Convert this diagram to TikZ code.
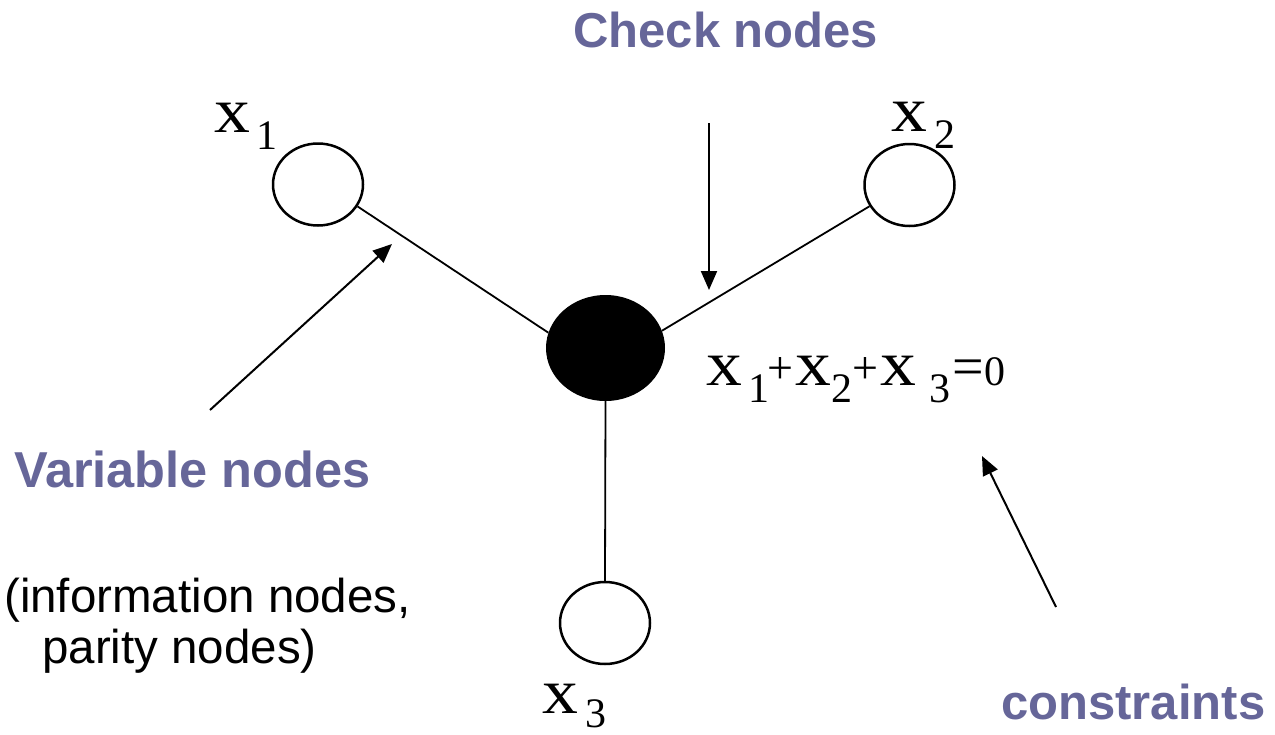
\documentclass[tikz,border=0pt]{standalone}
\usepackage{fontspec}
\setmainfont{Liberation Serif}
\newfontfamily\labfont{Liberation Sans}
\usetikzlibrary{shapes.geometric,arrows.meta}
\definecolor{labblue}{RGB}{102,102,153}
\newcommand\VX{\scalebox{1.12}[1]{\fontsize{64}{64}\selectfont x}}
\newcommand\VS[2][-17pt]{\raisebox{#1}{\fontsize{42}{42}\selectfont #2}}
\newcommand\VP{\raisebox{2pt}{\fontsize{46}{46}\selectfont +}}
\begin{document}
\begin{tikzpicture}[x=1pt,y=-1pt,
  var/.style={ellipse,draw,line width=2.5pt,minimum width=90pt,minimum height=82pt,inner sep=0pt},
  chk/.style={ellipse,fill=black,minimum width=119pt,minimum height=106pt,inner sep=0pt},
  edge/.style={line width=1.8pt},
  ptr/.style={line width=2pt,-{Triangle[length=19pt,width=16pt]}},
  title/.style={text=labblue,font=\labfont\bfseries\fontsize{49}{49}\selectfont,inner sep=0pt,anchor=base west},
  note/.style={font=\labfont\fontsize{47.5}{51}\selectfont,inner sep=0pt,anchor=base west},
  math/.style={inner sep=0pt,anchor=base west}]
\useasboundingbox (0,0) rectangle (1275,734);
% graph
\node[var] (x1) at (318,184.5) {};
\node[var] (x2) at (909.5,185) {};
\node[chk] (c) at (605.5,348) {};
\node[var] (x3) at (605,623) {};
\draw[edge] (x1.-29) -- (c.165);
\draw[edge] (x2.-152) -- (c.17);
\draw[edge] (c.south) -- (x3.north);
% variable labels
\node[math] (l1) at (214,132) {\VX\hspace{6pt}\VS{1}};
\node[math] (l2) at (891,131) {\VX\hspace{7pt}\VS{2}};
\node[math] (l3) at (542,713) {\VX\hspace{7pt}\VS[-14pt]{3}};
\node[math] (eq) at (706,385) {\VX\hspace{6pt}\VS{1}\hspace{-2pt}\VP\hspace{2.5pt}\VX\hspace{0pt}\VS{2}\hspace{0pt}\VP\hspace{2.5pt}\VX\hspace{13pt}\VS{3}\hspace{2pt}{\fontsize{56}{56}\selectfont =}{\fontsize{42}{42}\selectfont 0}};
% titles
\node[title] (tc) at (573,47) {Check nodes};
\node[title,font=\labfont\bfseries\fontsize{50.5}{50.5}\selectfont] (tv) at (14,487) {Variable nodes};
\node[title] (tk) at (1001,719) {constraints};
\node[note] (tn1) at (4,612) {(information nodes,};
\node[note] (tn2) at (42,663) {parity nodes)};
% pointers
\coordinate (ac1) at (709,123);
\coordinate (ac2) at (709,290);
\coordinate (av1) at (210,410);
\coordinate (av2) at (392,244);
\coordinate (ak1) at (1056,607);
\coordinate (ak2) at (982,456);
\draw[ptr] (ac1) -- (ac2);
\draw[ptr] (av1) -- (av2);
\draw[ptr] (ak1) -- (ak2);
\end{tikzpicture}
\end{document}
